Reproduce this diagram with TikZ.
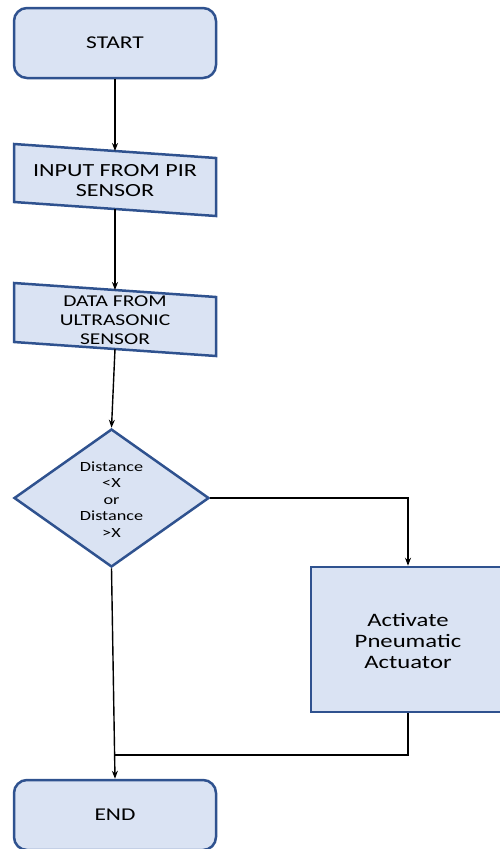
\documentclass[tikz,border=0pt]{standalone}
\usepackage{fontspec}
\setmainfont{Carlito}[FakeStretch=1.3]
\usetikzlibrary{shapes.geometric,arrows.meta}
\definecolor{boxfill}{HTML}{DAE3F3}
\definecolor{boxline}{HTML}{2F528F}
\tikzset{
  shapebox/.style={draw=boxline, fill=boxfill, line width=2.5pt},
  termbox/.style={shapebox, rounded corners=13pt, minimum width=202pt, minimum height=70pt, inner sep=0pt, font=\fontsize{18}{21}\selectfont},
  arr/.style={draw=black, line width=1.4pt, -{Stealth[length=8pt,width=6pt]}},
  ln/.style={draw=black, line width=1.4pt},
  lbl/.style={align=center, inner sep=0pt, text=black}
}
\begin{document}
\begin{tikzpicture}[x=1pt,y=-1pt]
\useasboundingbox (0,0) rectangle (500,849);
% START
\node[termbox] (start) at (115,43) {START};
% INPUT FROM PIR SENSOR
\path[shapebox] (14,144) -- (216,158) -- (216,216) -- (14,202) -- cycle;
\node[lbl, font=\fontsize{18.5}{20}\selectfont] (inp) at (115,180.5) {INPUT FROM PIR\\SENSOR};
\coordinate (inpTop) at (115,151);
\coordinate (inpBot) at (115,209);
% DATA FROM ULTRASONIC SENSOR
\path[shapebox] (14,283) -- (216,297) -- (216,356) -- (14,342) -- cycle;
\node[lbl, font=\fontsize{16.5}{19}\selectfont] (dat) at (115,320.5) {DATA FROM\\ULTRASONIC\\SENSOR};
\coordinate (datTop) at (115,290);
\coordinate (datBot) at (115,349);
% Decision
\node[diamond, shapebox, minimum width=195pt, minimum height=138pt, inner sep=0pt] (dia) at (111.5,498) {};
\node[lbl, font=\fontsize{14}{16.5}\selectfont] (diatext) at (111.5,499.5) {Distance\\<X\\or\\Distance\\>X};
% Activate
\node[shapebox, minimum width=194pt, minimum height=145pt, inner sep=0pt] (act) at (408,639.5) {};
\node[lbl, font=\fontsize{19}{21}\selectfont] (acttext) at (408,640.5) {Activate\\Pneumatic\\Actuator};
% END
\node[termbox] (end) at (115,815) {END};
% connectors
\draw[arr] (start.south) -- (inpTop);
\draw[arr] (inpBot) -- (datTop);
\draw[arr] (datBot) -- (dia.north);
\draw[arr] (dia.east) -| (act.north);
\draw[arr] (dia.south) -- (end.north);
\coordinate (join) at (114.6,755);
\draw[ln] (act.south) |- (join);
\end{tikzpicture}
\end{document}
